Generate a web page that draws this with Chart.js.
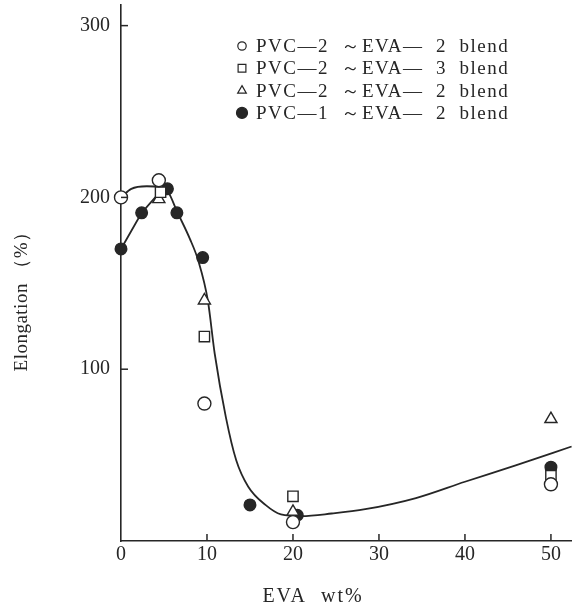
<!DOCTYPE html>
<html><head><meta charset="utf-8">
<script src="https://cdn.jsdelivr.net/npm/chart.js@4/dist/chart.umd.min.js"></script>
<style>html,body{margin:0;padding:0;background:#fff;}#wrap{width:572px;height:612px;}</style>
</head><body><div id="wrap"><canvas id="c" width="572" height="612"></canvas></div>
<script>
// ---- data ----
const seriesLabels = [
  "PVC—2  ～EVA—  2  blend",
  "PVC—2  ～EVA—  3  blend",
  "PVC—2  ～EVA—  2  blend",
  "PVC—1  ～EVA—  2  blend"
];
const circleX   = [0, 4.4, 9.7, 20, 50];
const circleY   = [200, 210, 80, 11, 33];
const squareX   = [4.6, 9.7, 20, 50];
const squareY   = [203, 119, 26, 38];
const triangleX = [4.4, 9.7, 20, 50];
const triangleY = [199, 140, 17, 71];
const filledX   = [0, 2.4, 5.4, 6.5, 9.5, 15, 20.5, 50];
const filledY   = [170, 191, 205, 191, 165, 21, 15, 43];
// fitted curve
const curveX = [0, 1.2, 3, 4.5, 5.5, 6.5, 8, 9, 10.1, 10.9, 12.2, 13.4, 14.8, 16.8, 18.6, 21, 24.5, 28.4, 34.3, 40, 45.9, 52.4];
const curveY = [200, 205, 206.5, 206, 203, 192, 176, 163, 140, 109, 72, 47, 31.6, 21, 15.5, 14.5, 16, 18.5, 25, 34.5, 44, 55];
const branchX = [0, 2.4, 4.5];
const branchY = [170, 191, 203];
const xTicks = [0, 10, 20, 30, 40, 50];
const yTicks = [100, 200, 300];
const xTitle = "EVA  wt%";
const yTitle = "Elongation （%）";

const pts = (xs, ys) => xs.map((x, i) => ({x: x, y: ys[i]}));
const INK = '#262626';
const SERIF = '"Liberation Serif","DejaVu Serif",serif';

const markerSets = [
  {label: seriesLabels[0], data: pts(circleX, circleY), pointStyle: 'circle', pointRadius: 6.5, backgroundColor: '#fff', legendR: 4.2},
  {label: seriesLabels[1], data: pts(squareX, squareY), pointStyle: 'rect', pointRadius: 7.3, backgroundColor: '#fff', legendR: 5.5},
  {label: seriesLabels[2], data: pts(triangleX, triangleY), pointStyle: 'triangle', pointRadius: 7, backgroundColor: '#fff', legendR: 5},
  {label: seriesLabels[3], data: pts(filledX, filledY), pointStyle: 'circle', pointRadius: 5.8, backgroundColor: INK, legendR: 5.5}
].map(d => Object.assign(d, {borderColor: INK, borderWidth: 1.4, showLine: false, clip: false, isMarker: true, order: 0}));

const lineSets = [
  {label: 'curve', data: pts(curveX, curveY), cubicInterpolationMode: 'monotone'},
  {label: 'branch', data: pts(branchX, branchY), tension: 0}
].map(d => Object.assign(d, {showLine: true, borderColor: INK, borderWidth: 1.8, pointRadius: 0, clip: false, order: 1}));

const overlay = {
  id: 'overlay',
  afterDraw(chart) {
    const ctx = chart.ctx, xs = chart.scales.x, ys = chart.scales.y, ca = chart.chartArea;
    ctx.save();
    ctx.strokeStyle = INK; ctx.lineWidth = 1.5;
    // inward tick marks
    yTicks.forEach(v => { const y = ys.getPixelForValue(v); ctx.beginPath(); ctx.moveTo(ca.left, y); ctx.lineTo(ca.left + 7, y); ctx.stroke(); });
    xTicks.forEach(v => { if (v === 0) return; const x = xs.getPixelForValue(v); ctx.beginPath(); ctx.moveTo(x, ca.bottom); ctx.lineTo(x, ca.bottom - 7); ctx.stroke(); });
    // legend
    ctx.fillStyle = INK;
    ctx.font = '19px ' + SERIF;
    ctx.textBaseline = 'middle'; ctx.textAlign = 'left';
    try { ctx.letterSpacing = '1.5px'; } catch (e) {}
    const lx = 242, tx = 256, ly0 = 46, dy = 22.3;
    chart.data.datasets.filter(d => d.isMarker).forEach((d, i) => {
      const y = ly0 + i * dy;
      ctx.lineWidth = 1.2;
      ctx.fillStyle = d.backgroundColor;
      Chart.helpers.drawPoint(ctx, {pointStyle: d.pointStyle, radius: d.legendR, rotation: 0, borderWidth: 1.2}, lx, y);
      ctx.fillStyle = INK;
      ctx.fillText(d.label, tx, y + 1);
    });
    // axis titles
    try { ctx.letterSpacing = '2px'; } catch (e) {}
    ctx.font = '20px ' + SERIF;
    ctx.textAlign = 'center';
    ctx.fillText(xTitle, 313, 597);
    try { ctx.letterSpacing = '0.5px'; } catch (e) {}
    ctx.font = '19px ' + SERIF;
    ctx.translate(22, 297); ctx.rotate(-Math.PI / 2);
    ctx.fillText(yTitle, 0, 0);
    ctx.restore();
  }
};

function noPad(s) { s.paddingLeft = 0; s.paddingRight = 0; s.paddingTop = 0; s.paddingBottom = 0; }

new Chart(document.getElementById('c'), {
  type: 'scatter',
  data: {datasets: markerSets.concat(lineSets)},
  options: {
    responsive: false, animation: false, devicePixelRatio: 1,
    layout: {autoPadding: false, padding: {top: 5, right: 0, left: 0, bottom: 0}},
    plugins: {legend: {display: false}, tooltip: {enabled: false}},
    scales: {
      x: {
        type: 'linear', min: 0, max: 52.45,
        afterFit(s) { s.height = 71; noPad(s); },
        afterBuildTicks(s) { s.ticks = xTicks.map(v => ({value: v})); },
        grid: {display: false, drawTicks: false},
        border: {display: true, color: INK, width: 1.6},
        ticks: {color: INK, font: {family: SERIF, size: 20}, padding: 2, maxRotation: 0, autoSkip: false}
      },
      y: {
        type: 'linear', min: 0, max: 312,
        afterFit(s) { s.width = 121; noPad(s); },
        afterBuildTicks(s) { s.ticks = yTicks.map(v => ({value: v})); },
        grid: {display: false, drawTicks: false},
        border: {display: true, color: INK, width: 1.6},
        ticks: {color: INK, font: {family: SERIF, size: 20}, padding: 11}
      }
    }
  },
  plugins: [overlay]
});
</script></body></html>
